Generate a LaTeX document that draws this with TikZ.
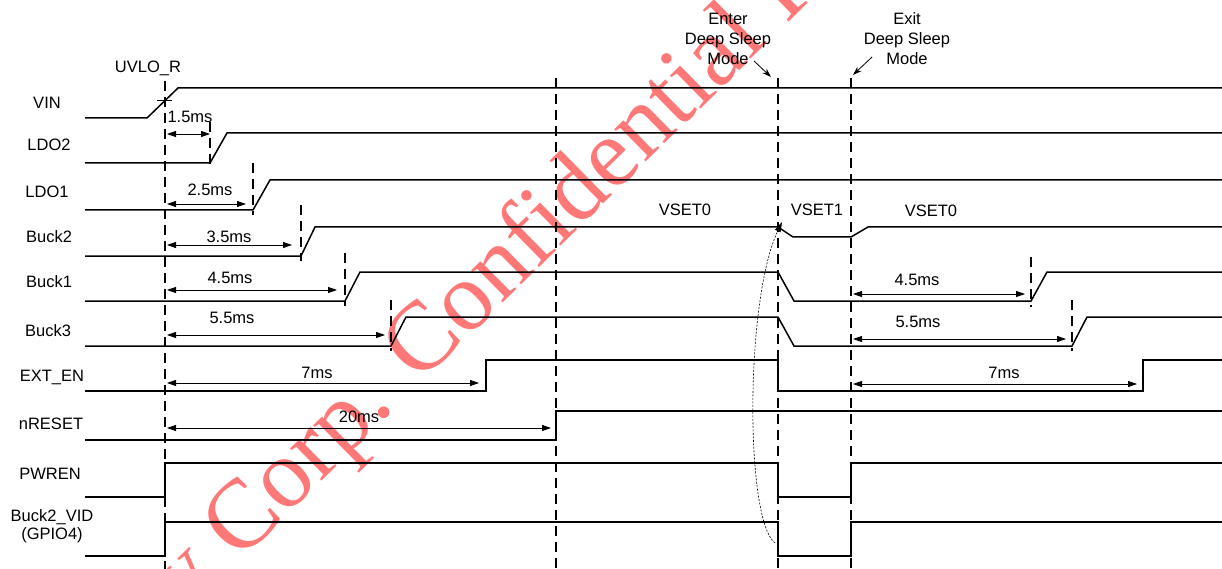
\documentclass[tikz,border=0pt]{standalone}
\usepackage{fontspec}
\setmainfont{Liberation Sans}
\newfontfamily\wmfont{Liberation Serif}
\usetikzlibrary{arrows.meta}
\definecolor{wmred}{RGB}{255,120,120}

\begin{document}
\begin{tikzpicture}[x=1pt, y=-1pt,
  sig/.style={line width=1.5pt},
  guide/.style={line width=1.5pt, dash pattern=on 10pt off 6pt},
  dim/.style={{Triangle[length=9pt,width=6pt]}-{Triangle[length=9pt,width=6pt]}, line width=0.8pt},
  callout/.style={-{Stealth[length=9pt,width=6pt]}, line width=0.8pt},
  lbl/.style={font=\fontsize{16.5}{20}\selectfont, inner sep=0pt, align=center},
  wm/.style={font=\wmfont\fontsize{98}{98}\selectfont, text=wmred, inner sep=0pt, anchor=base}]
\useasboundingbox (0,0) rectangle (1222,569);
% watermark
\node[wm, rotate=44.5] (wmark) at (506,300) {y Corp. Confidential P};
% guides
\foreach \x/\ya in {165/81, 556/78, 778/78, 851/78}
  \draw[guide] (\x,\ya) -- (\x,569);
\foreach \x/\ya/\yb in {210/122/168, 253/163/215, 301/205/261, 345/253/306, 391/300/351, 1031/257/307, 1072/300/351}
  \draw[guide] (\x,\ya) -- (\x,\yb);
\draw[line width=0.8pt] (157,100) -- (172,100);
% waveforms
\draw[sig] (85,118) -- (147,118) -- (178,88) -- (1222,88);
\draw[sig] (85,163) -- (210,163) -- (227,133) -- (1222,133);
\draw[sig] (85,210) -- (253,210) -- (270,180) -- (1222,180);
\draw[sig] (85,256) -- (301,256) -- (315,227) -- (778,227) -- (793,237) -- (851,237) -- (868,227) -- (1222,227);
\draw[sig] (85,301) -- (345,301) -- (360,272) -- (778,272) -- (794,301) -- (1031,301) -- (1047,272) -- (1222,272);
\draw[sig] (85,346) -- (391,346) -- (406,317) -- (778,317) -- (794,346) -- (1072,346) -- (1087,317) -- (1222,317);
\draw[sig] (85,391) -- (486,391) -- (486,360) -- (778,360) -- (778,391) -- (1143,391) -- (1143,360) -- (1222,360);
\draw[sig] (85,440) -- (556,440) -- (556,411) -- (1222,411);
\draw[sig] (85,497) -- (165,497) -- (165,463) -- (778,463) -- (778,497) -- (851,497) -- (851,463) -- (1222,463);
\draw[sig] (85,556) -- (165,556) -- (165,522) -- (778,522) -- (778,556) -- (851,556) -- (851,522) -- (1222,522);
% signal names
\node[lbl] (vin) at (47,103) {VIN};
\node[lbl] (ldo2) at (49,145) {LDO2};
\node[lbl] (ldo1) at (47,192) {LDO1};
\node[lbl] (buck2) at (49,237) {Buck2};
\node[lbl] (buck1) at (49,282) {Buck1};
\node[lbl] (buck3) at (48,331) {Buck3};
\node[lbl] (exten) at (52,377) {EXT\_EN};
\node[lbl] (nreset) at (51,424) {nRESET};
\node[lbl] (pwren) at (50,474) {PWREN};
\node[lbl] (vid) at (52,526) {Buck2\_VID\\[-2pt](GPIO4)};
\node[lbl] (uvlo) at (148,68) {UVLO\_R};
\node[lbl] (vset0a) at (685,210) {VSET0};
\node[lbl] (vset1) at (817,210) {VSET1};
\node[lbl] (vset0b) at (931,211) {VSET0};
% delays
\foreach \xa/\xb/\ya/\xl/\yl/\txt [count=\i] in {167/210/134/190/117/1.5ms, 167/246/204/210/190/2.5ms, 167/292/245/229/237/3.5ms,
    167/337/290/230/278/4.5ms, 167/385/335/232/318/5.5ms, 167/479/383/317/373/7ms, 167/551/428/359/417/20ms,
    853/1025/294/917/280/4.5ms, 853/1066/339/918/322/5.5ms, 853/1137/384/1004/373/7ms} {
  \draw[dim] (\xa,\ya) -- (\xb,\ya);
  \node[lbl] (dly\i) at (\xl,\yl) {\txt};
}
% deep sleep
\node[lbl] (enter) at (728,38.5) {Enter\\Deep Sleep\\Mode};
\node[lbl] (exit) at (907,38.5) {Exit\\Deep Sleep\\Mode};
\coordinate (enterFrom) at (754,61);
\coordinate (enterTo) at (771,77);
\coordinate (exitFrom) at (872,57);
\coordinate (exitTo) at (853,75);
\draw[callout] (enterFrom) -- (enterTo);
\draw[callout] (exitFrom) -- (exitTo);
\coordinate (vidFall) at (775,543);
\coordinate (buckDip) at (782,222);
\draw[-{Triangle[length=10pt,width=6pt]}, line width=0.6pt, dash pattern=on 2pt off 1.5pt]
  (vidFall) .. controls (745,520) and (745,300) .. (buckDip);
\end{tikzpicture}
\end{document}
